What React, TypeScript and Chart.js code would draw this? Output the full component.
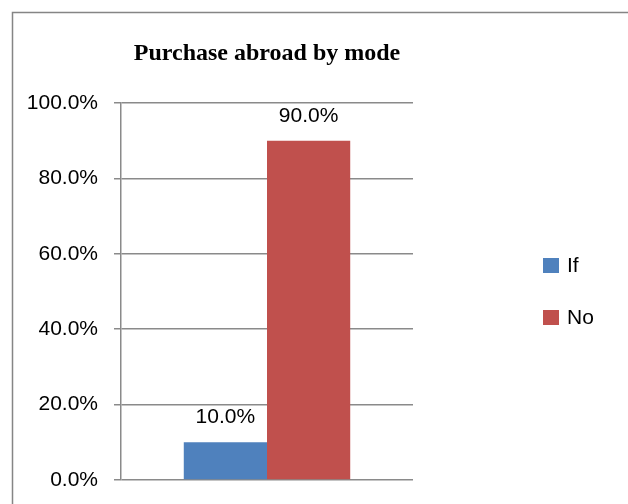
import React, { useEffect, useRef } from "react";
import { Chart, registerables } from "chart.js";

Chart.register(...registerables);

const categories = [""];
const seriesNames = ["If", "No"];
const ifValues = [0.1];
const noValues = [0.9];
const yTicks = [0, 0.2, 0.4, 0.6, 0.8, 1.0];
const titleText = "Purchase abroad by mode";
const colors = ["#4F81BD", "#C0504D"];

const fmt = (v: number) => (v * 100).toFixed(1) + "%";

const framePlugin = {
  id: "frame",
  beforeDraw(chart: any) {
    const ctx = chart.ctx;
    ctx.save();
    ctx.fillStyle = "#ffffff";
    ctx.fillRect(0, 0, chart.width, chart.height);
    ctx.strokeStyle = "#858585";
    ctx.lineWidth = 1.5;
    ctx.strokeRect(12.5, 12.5, 1000, 1000);
    ctx.restore();
  },
  afterDraw(chart: any) {
    const ctx = chart.ctx;
    const area = chart.chartArea;
    ctx.save();
    // title
    ctx.fillStyle = "#000000";
    ctx.font = "bold 24px 'Liberation Serif', serif";
    ctx.textAlign = "center";
    ctx.textBaseline = "alphabetic";
    ctx.fillText(titleText, (area.left + area.right) / 2, 60);
    // data labels
    ctx.font = "21px 'Liberation Sans', sans-serif";
    chart.data.datasets.forEach((ds: any, i: number) => {
      const meta = chart.getDatasetMeta(i);
      meta.data.forEach((bar: any, j: number) => {
        ctx.fillStyle = "#000000";
        ctx.textAlign = "center";
        ctx.fillText(fmt(ds.data[j]), bar.x, bar.y - 19);
      });
    });
    // legend
    chart.data.datasets.forEach((ds: any, i: number) => {
      const y = 258 + i * 52;
      ctx.fillStyle = ds.backgroundColor;
      ctx.fillRect(543, y, 16, 15);
      ctx.fillStyle = "#000000";
      ctx.textAlign = "left";
      ctx.textBaseline = "middle";
      ctx.fillText(ds.label, 567, y + 8);
      ctx.textBaseline = "alphabetic";
    });
    ctx.restore();
  },
};

export default function App() {
  const ref = useRef<HTMLCanvasElement>(null);
  useEffect(() => {
    if (!ref.current) return;
    const chart = new Chart(ref.current, {
      type: "bar",
      data: {
        labels: categories,
        datasets: [
          { label: seriesNames[0], data: ifValues, backgroundColor: colors[0] },
          { label: seriesNames[1], data: noValues, backgroundColor: colors[1] },
        ],
      },
      options: {
        animation: false,
        responsive: false,
        devicePixelRatio: 1,
        layout: { padding: { left: 0, right: 215, top: 103, bottom: 24 } },
        datasets: { bar: { barPercentage: 1, categoryPercentage: 0.57 } } as any,
        plugins: {
          legend: { display: false },
          title: { display: false },
          tooltip: { enabled: false },
        },
        scales: {
          x: { display: false },
          y: {
            min: 0,
            max: 1,
            afterFit: (s: any) => {
              s.width = 121;
              s.paddingTop = 0;
              s.paddingBottom = 0;
            },
            afterBuildTicks: (s: any) => {
              s.ticks = yTicks.map((v) => ({ value: v }));
            },
            ticks: {
              padding: 16,
              color: "#000000",
              font: { family: "'Liberation Sans', sans-serif", size: 21 },
              callback: (v: any) => fmt(Number(v)),
            },
            grid: { color: "#8a8a8a", lineWidth: 1.5, tickLength: 7 },
            border: { display: true, color: "#8a8a8a", width: 1.5 },
          },
        },
      },
      plugins: [framePlugin],
    });
    return () => chart.destroy();
  }, []);
  return (
    <div style={{ position: "absolute", left: 0, top: 0, width: 628, height: 504 }}>
      <canvas ref={ref} width={628} height={504} />
    </div>
  );
}
